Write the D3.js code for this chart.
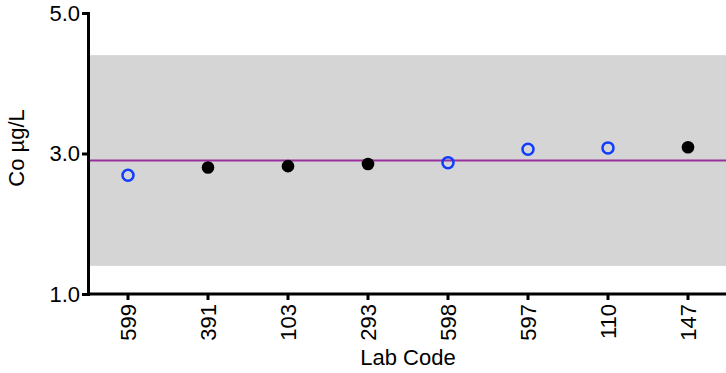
<!DOCTYPE html>
<html lang="en">
<head>
<meta charset="utf-8">
<title>Co lab results</title>
<script src="https://cdn.jsdelivr.net/npm/d3@7"></script>
<style>
    body { margin: 0; background: #fff; }
    text { font-family: "Liberation Sans", Arial, sans-serif; }
</style>
</head>
<body>
<script type="text/javascript">

    var width = 726;
    var height = 373;

    // data
    var labCodes = ["599", "391", "103", "293", "598", "597", "110", "147"];
    var labValues = [2.69, 2.80, 2.82, 2.85, 2.87, 3.06, 3.08, 3.09];
    var openMarker = [true, false, false, false, true, true, true, false];
    var assignedValue = 2.9;
    var bandLimits = [1.4, 4.4];
    var yTicks = [1.0, 3.0, 5.0];

    var margin = {top: 13, left: 88, bottom: 79};

    var svg = d3.select("body").append("svg")
    .attr("width", width)
    .attr("height", height);

    var x = d3.scaleBand()
    .domain(labCodes)
    .range([margin.left, margin.left + 80 * labCodes.length])
    .padding(0);

    var y = d3.scaleLinear()
    .domain([1, 5])
    .range([height - margin.bottom, margin.top]);

    // acceptance band
    svg.append("rect")
    .attr("x", margin.left)
    .attr("y", y(bandLimits[1]))
    .attr("width", width - margin.left)
    .attr("height", y(bandLimits[0]) - y(bandLimits[1]))
    .attr("fill", "#d5d5d5");

    // assigned value line
    svg.append("line")
    .attr("x1", margin.left)
    .attr("x2", width)
    .attr("y1", y(assignedValue))
    .attr("y2", y(assignedValue))
    .attr("stroke", "#9a2f9e")
    .attr("stroke-width", 2);

    // axes
    var yAxis = svg.append("g")
    .attr("transform", "translate(" + margin.left + ",0)")
    .call(d3.axisLeft(y).tickValues(yTicks).tickFormat(d3.format(".1f")).tickSize(6).tickPadding(2).tickSizeOuter(0));

    var xAxis = svg.append("g")
    .attr("transform", "translate(0," + y(1) + ")")
    .call(d3.axisBottom(x).tickSize(6).tickSizeOuter(0));

    xAxis.select(".domain").attr("d", "M" + margin.left + ",0H" + width);

    [yAxis, xAxis].forEach(function (g) {
        g.selectAll(".domain, .tick line")
        .attr("stroke", "#000")
        .attr("stroke-width", 3);
        g.selectAll("text")
        .attr("fill", "#000")
        .attr("font-size", 22)
        .attr("font-family", "Liberation Sans, Arial, sans-serif");
    });

    yAxis.select(".domain").attr("stroke-linecap", "square");

    xAxis.selectAll(".tick text")
    .attr("transform", "rotate(-90)")
    .attr("text-anchor", "end")
    .attr("x", -10)
    .attr("y", 0)
    .attr("dy", "0.35em");

    // points
    svg.selectAll("circle.pt")
    .data(labCodes)
    .enter()
    .append("circle")
    .attr("class", "pt")
    .attr("cx", function (d) { return x(d) + x.bandwidth() / 2; })
    .attr("cy", function (d, i) { return y(labValues[i]); })
    .attr("r", function (d, i) { return openMarker[i] ? 5.5 : 6.3; })
    .attr("fill", function (d, i) { return openMarker[i] ? "none" : "#000"; })
    .attr("stroke", function (d, i) { return openMarker[i] ? "#0f3cff" : "none"; })
    .attr("stroke-width", 2.5);

    // axis titles
    svg.append("text")
    .attr("transform", "translate(24," + 148 + ") rotate(-90)")
    .attr("text-anchor", "middle")
    .attr("font-size", 22)
    .text("Co µg/L");

    svg.append("text")
    .attr("x", margin.left + 40 * labCodes.length)
    .attr("y", 365)
    .attr("text-anchor", "middle")
    .attr("font-size", 22)
    .text("Lab Code");

</script>
</body>
</html>
